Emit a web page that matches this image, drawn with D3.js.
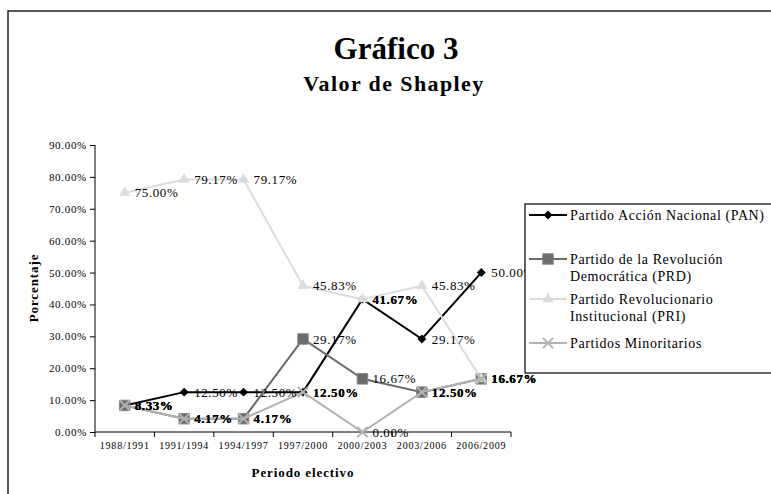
<!DOCTYPE html>
<html>
<head>
<meta charset="utf-8">
<script src="https://cdn.jsdelivr.net/npm/d3@7"></script>
<style>
  body { margin: 0; background: #fff; }
  svg { display: block; font-family: "Liberation Serif", "DejaVu Serif", serif; }
</style>
</head>
<body>
<div id="chart"></div>
<script>
// data
const periods = ["1988/1991", "1991/1994", "1994/1997", "1997/2000", "2000/2003", "2003/2006", "2006/2009"];
const seriesNames = ["Partido Acción Nacional (PAN)", "Partido de la Revolución Democrática (PRD)", "Partido Revolucionario Institucional (PRI)", "Partidos Minoritarios"];
const pan = [8.33, 12.50, 12.50, 12.50, 41.67, 29.17, 50.00];
const prd = [8.33, 4.17, 4.17, 29.17, 16.67, 12.50, 16.67];
const pri = [75.00, 79.17, 79.17, 45.83, 41.67, 45.83, 16.67];
const minor = [8.33, 4.17, 4.17, 12.50, 0.00, 12.50, 16.67];
const yTicks = [0, 10, 20, 30, 40, 50, 60, 70, 80, 90];

const width = 771, height = 494;
const svg = d3.select("#chart").append("svg")
    .attr("width", width)
    .attr("height", height);

// outer frame (runs off the page right/bottom)
svg.append("rect")
    .attr("x", 8).attr("y", 11)
    .attr("width", 800).attr("height", 520)
    .attr("fill", "#fff")
    .attr("stroke", "#222").attr("stroke-width", 1.5);

// titles
svg.append("text")
    .attr("x", 396).attr("y", 59)
    .attr("text-anchor", "middle")
    .attr("font-weight", "bold")
    .attr("font-size", 31)
    .text("Gráfico 3");
svg.append("text")
    .attr("x", 394).attr("y", 91)
    .attr("text-anchor", "middle")
    .attr("font-weight", "bold")
    .attr("font-size", 22)
    .attr("letter-spacing", 1.4)
    .text("Valor de Shapley");

var x = d3.scaleBand().domain(periods).range([95, 511]);
var y = d3.scaleLinear().domain([0, 90]).range([432, 145]);

// y axis
var yAxis = svg.append("g")
    .attr("transform", "translate(95,0)")
    .call(d3.axisLeft(y).tickValues(yTicks).tickSize(5).tickPadding(3)
        .tickFormat(d => d.toFixed(2) + "%"));
yAxis.selectAll("path, line").attr("stroke", "#000");
yAxis.select(".domain").attr("d", "M0," + y(90) + "V" + y(0));
yAxis.selectAll("text")
    .attr("font-family", "Liberation Serif, serif")
    .attr("font-size", 11)
    .attr("letter-spacing", 0.7)
    .attr("fill", "#000");

// x axis
var xAxis = svg.append("g")
    .attr("transform", "translate(0,432)")
    .call(d3.axisBottom(x).tickSize(0).tickPadding(10));
xAxis.select(".domain").attr("stroke", "#000").attr("d", "M95,0H511");
xAxis.selectAll("text")
    .attr("font-family", "Liberation Serif, serif")
    .attr("font-size", 10)
    .attr("letter-spacing", 0.8)
    .attr("fill", "#000");
// tick marks between categories
var bounds = periods.map(p => x(p)).concat([x(periods[periods.length - 1]) + x.bandwidth()]);
xAxis.selectAll("line.sep")
    .data(bounds)
    .enter().append("line")
    .attr("class", "sep")
    .attr("x1", d => d).attr("x2", d => d)
    .attr("y1", 0).attr("y2", 5)
    .attr("stroke", "#000");

// axis titles
svg.append("text")
    .attr("x", 303).attr("y", 477)
    .attr("text-anchor", "middle")
    .attr("font-weight", "bold")
    .attr("font-size", 13)
    .attr("letter-spacing", 0.9)
    .text("Periodo electivo");
svg.append("text")
    .attr("transform", "translate(38,288) rotate(-90)")
    .attr("text-anchor", "middle")
    .attr("font-weight", "bold")
    .attr("font-size", 13)
    .attr("letter-spacing", 0.9)
    .text("Porcentaje");

// series
const allSeries = [pan, prd, pri, minor];
const colors = ["#000000", "#6b6b6b", "#dcdcdc", "#b2b2b2"];
const cx = i => x(periods[i]) + x.bandwidth() / 2;

var line = d3.line()
    .x((d, i) => cx(i))
    .y(d => y(d));

function drawMarker(g, s, px, py) {
    if (s === 0) {
        g.append("path")
            .attr("d", d3.symbol(d3.symbolSquare, 40)())
            .attr("transform", "translate(" + px + "," + py + ") rotate(45)")
            .attr("fill", "#000");
    } else if (s === 1) {
        g.append("path")
            .attr("d", d3.symbol(d3.symbolSquare, 110)())
            .attr("transform", "translate(" + px + "," + py + ")")
            .attr("fill", "#6b6b6b").attr("stroke", "#888").attr("stroke-width", 1);
    } else if (s === 2) {
        g.append("path")
            .attr("d", d3.symbol(d3.symbolTriangle, 55)())
            .attr("transform", "translate(" + px + "," + py + ")")
            .attr("fill", "#dcdcdc");
    } else {
        g.append("path")
            .attr("d", d3.symbol(d3.symbolX, 70)())
            .attr("transform", "translate(" + px + "," + py + ")")
            .attr("fill", "none").attr("stroke", "#b2b2b2").attr("stroke-width", 2);
    }
}

allSeries.forEach(function (vals, s) {
    var g = svg.append("g");
    g.append("path")
        .datum(vals)
        .attr("d", line)
        .attr("fill", "none")
        .attr("stroke", colors[s])
        .attr("stroke-width", 2);
    vals.forEach(function (v, i) {
        drawMarker(g, s, cx(i), y(v));
    });
});

// data labels (coincident labels overprint and look bold)
allSeries.forEach(function (vals, s) {
    svg.append("g").selectAll("text")
        .data(vals)
        .enter().append("text")
        .attr("x", (d, i) => cx(i) + 10)
        .attr("y", d => y(d))
        .attr("dy", "0.35em")
        .attr("font-size", 13)
        .attr("letter-spacing", 0.6)
        .attr("font-weight", (d, i) => allSeries.filter(o => o[i] === d).length > 1 ? "bold" : "normal")
        .text(d => d.toFixed(2) + "%");
});

// legend (white box drawn over the plot, clips what is behind it)
var legend = svg.append("g");
legend.append("rect")
    .attr("x", 525).attr("y", 204)
    .attr("width", 300).attr("height", 169)
    .attr("fill", "#fff")
    .attr("stroke", "#000").attr("stroke-width", 1.2);

const legendRows = [
    { s: 0, y: 215, lines: ["Partido Acción Nacional (PAN)"] },
    { s: 1, y: 259, lines: ["Partido de la Revolución", "Democrática (PRD)"] },
    { s: 2, y: 299, lines: ["Partido Revolucionario", "Institucional (PRI)"] },
    { s: 3, y: 343, lines: ["Partidos Minoritarios"] }
];
legendRows.forEach(function (r) {
    legend.append("line")
        .attr("x1", 529).attr("x2", 567)
        .attr("y1", r.y).attr("y2", r.y)
        .attr("stroke", colors[r.s]).attr("stroke-width", 2);
    drawMarker(legend, r.s, 548, r.y);
    r.lines.forEach(function (t, k) {
        legend.append("text")
            .attr("x", 570).attr("y", r.y + k * 17)
            .attr("dy", "0.35em")
            .attr("font-size", 14)
            .attr("letter-spacing", 0.6)
            .text(t);
    });
});
</script>
</body>
</html>
